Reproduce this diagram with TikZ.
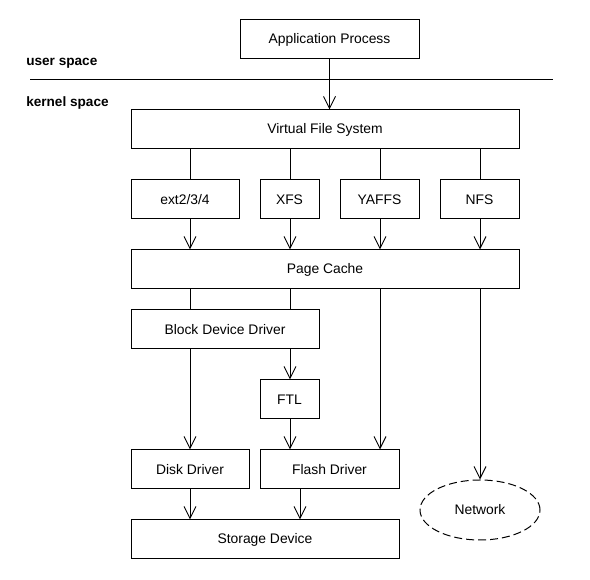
\documentclass[tikz,border=0pt]{standalone}
\usepackage{fontspec}
\setmainfont{Liberation Sans}
\usetikzlibrary{positioning,shapes.geometric,arrows.meta}

\tikzset{
  layer/.style={draw, line width=0.75pt, minimum height=29.25pt, inner sep=0pt,
    font=\fontsize{10.4}{12}\selectfont},
  wpx/.style={minimum width=#1*0.75pt},
  spacelabel/.style={anchor=west, inner sep=0pt, font=\fontsize{10.2}{12}\selectfont\bfseries},
  link/.style={line width=0.75pt},
  flow/.style={link, -{Straight Barb[length=9pt,width=9pt]}},
}

\begin{document}
\begin{tikzpicture}[x=0.75pt, y=-0.75pt]
  \useasboundingbox (0,0) rectangle (590,580);
  % user / kernel boundary
  \coordinate (sepL) at (30,80);
  \coordinate (sepR) at (553,80);
  \draw[link] (sepL) -- (sepR);
  \node[spacelabel] (user) at (26,63) {user space};
  \node[spacelabel] (kernel) at (26,103) {kernel space};
  % columns of the connectors
  \coordinate (c1) at (190,0);
  \coordinate (c2) at (290,0);
  \coordinate (c3) at (380,0);
  \coordinate (c4) at (480,0);
  \coordinate (c5) at (300,0);
  % boxes
  \node[layer, wpx=179] (app) at (329.5,39.5) {Application Process};
  \node[layer, wpx=388] (vfs) at (325,129.5) {Virtual File System};
  \node[layer, wpx=108] (ext) at (185,199.5) {ext2/3/4};
  \node[layer, wpx=59] (xfs) at (289.5,199.5) {XFS};
  \node[layer, wpx=79] (yaffs) at (379.5,199.5) {YAFFS};
  \node[layer, wpx=79] (nfs) at (479.5,199.5) {NFS};
  \node[layer, wpx=388] (pc) at (325,269.5) {Page Cache};
  \node[layer, wpx=188] (bdd) at (225,329.5) {Block Device Driver};
  \node[layer, wpx=59] (ftl) at (289.5,399.5) {FTL};
  \node[layer, wpx=118] (disk) at (190,469.5) {Disk Driver};
  \node[layer, wpx=139] (flash) at (329.5,469.5) {Flash Driver};
  \node[layer, wpx=268] (storage) at (265,539.5) {Storage Device};
  \node[layer, ellipse, dashed, dash pattern=on 6pt off 3pt, minimum width=90pt,
    minimum height=45pt] (net) at (480,510) {Network};
  % connectors
  \draw[flow] (app.south) -- (app.south |- vfs.north);
  \foreach \fs/\col in {ext/c1, xfs/c2, yaffs/c3, nfs/c4} {
    \draw[link] (vfs.south -| \col) -- (\fs.north -| \col);
    \draw[flow] (\fs.south -| \col) -- (pc.north -| \col);
  }
  \draw[link] (pc.south -| c1) -- (bdd.north -| c1);
  \draw[link] (pc.south -| c2) -- (bdd.north -| c2);
  \draw[flow] (pc.south -| c3) -- (flash.north -| c3);
  \draw[flow] (pc.south -| c4) -- (net.north);
  \draw[flow] (bdd.south -| c1) -- (disk.north -| c1);
  \draw[flow] (bdd.south -| c2) -- (ftl.north -| c2);
  \draw[flow] (ftl.south -| c2) -- (flash.north -| c2);
  \draw[flow] (disk.south -| c1) -- (storage.north -| c1);
  \draw[flow] (flash.south -| c5) -- (storage.north -| c5);
\end{tikzpicture}
\end{document}
